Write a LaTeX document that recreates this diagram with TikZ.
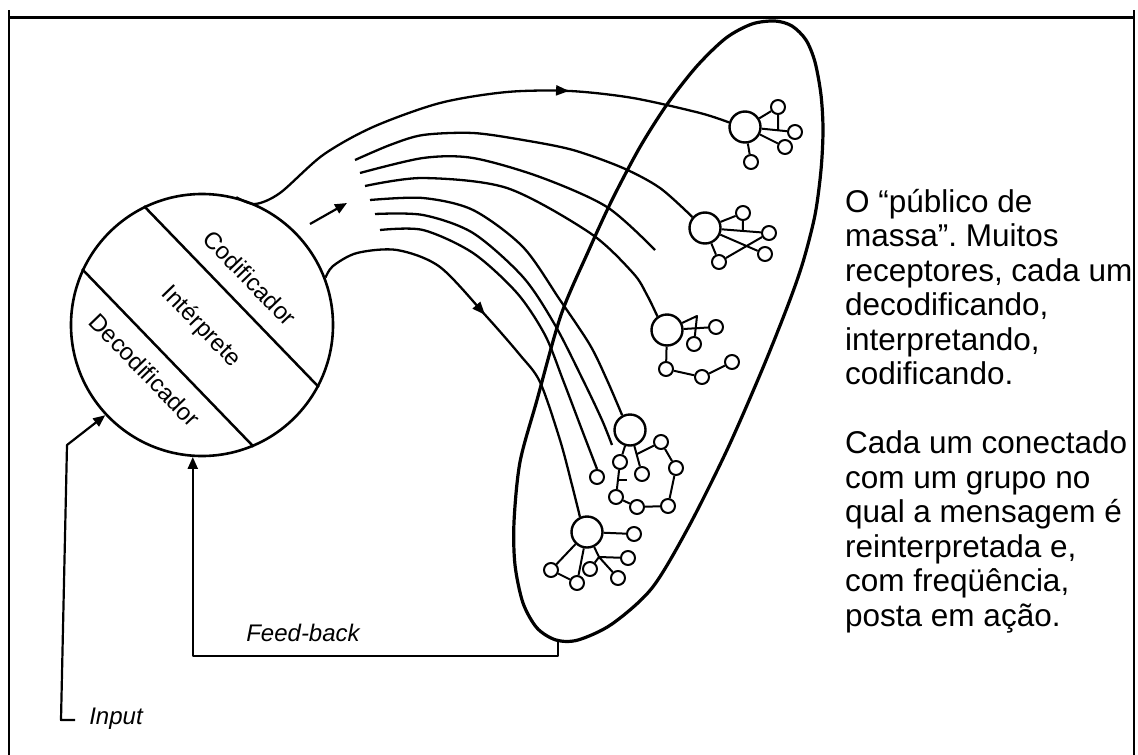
\documentclass[tikz,border=0pt]{standalone}
\usepackage{fontspec}
\setmainfont{Liberation Sans}
\usetikzlibrary{arrows.meta,decorations.markings,calc}
\frenchspacing

\begin{document}
\begin{tikzpicture}[
  x=1pt, y=-1pt,
  line join=round,
  lane/.style={line width=2.3pt},
  wire/.style={line width=2pt},
  hub/.style={draw, circle, line width=2.4pt, minimum size=31pt, inner sep=0pt},
  leaf/.style={draw, circle, line width=2pt, minimum size=14pt, inner sep=0pt},
  arr/.style={-{Triangle[length=12pt, width=10pt]}, line width=2.2pt},
  midarr/.style={postaction={decorate, decoration={markings,
      mark=at position #1 with {\arrow{Triangle[length=13pt, width=10pt]}}}}},
  part/.style={rotate=-46, font=\fontsize{24}{24}\selectfont},
  lab/.style={font=\fontsize{24}{24}\selectfont\itshape}
]
\useasboundingbox (0,0) rectangle (1138,755);
% frame
\draw[line width=3pt] (9,17) -- (1134,17);
\draw[line width=2.6pt] (9,10) -- (9,755);
\draw[line width=2.6pt] (1134,10) -- (1134,755);

% source: the three layers of the communicator
\node[draw, circle, line width=2.6pt, minimum size=262pt, inner sep=0pt] (src) at (202,325) {};
\draw[line width=2.5pt] (src.116) -- (src.332);
\draw[line width=2.5pt] (src.155) -- (src.293);
\node[part] (cod) at (250,278) {Codificador};
\node[part] (int) at (201,327) {Intérprete};
\node[part] (dec) at (145,370) {Decodificador};

% the mass audience (egg outline)
\draw[line width=3.2pt] plot[smooth cycle] coordinates {(775,21) (792,26) (806,40) (815,62)
  (821,95) (823,130) (821,170) (815,215) (803,262) (788,305) (762,370) (727,450)
  (688,528) (652,588) (612,624) (578,640) (556,640) (537,628) (523,603) (515,565)
  (514,522) (520,462) (537,400) (561,315) (588,252) (612,200) (640,147) (668,103)
  (697,66) (726,38) (752,24)};
\coordinate (mbot) at (558,641);

% receivers and their groups
\node[hub] (h1) at (745,127) {};
\node[leaf] (g1a) at (778,107) {};
\node[leaf] (g1b) at (795,132) {};
\node[leaf] (g1c) at (785,147) {};
\node[leaf] (g1d) at (751,162) {};
\draw[wire] (h1) -- (g1a) (h1) -- (g1b) (h1) -- (g1c) (h1) -- (g1d);
\draw[wire] (g1a) -- ($(h1)!0.66!(g1b)$);

\node[hub] (h2) at (705,228) {};
\node[leaf] (g2a) at (743,213) {};
\node[leaf] (g2b) at (769,233) {};
\node[leaf] (g2c) at (765,254) {};
\node[leaf] (g2d) at (719,262) {};
\draw[wire] (h2) -- (g2a) (h2) -- (g2b) (h2) -- (g2c) (h2) -- (g2d) (g2d) -- (g2b);
\draw[wire] (g2a) -- ($(h2)!0.59!(g2b)$);

\node[hub] (h3) at (667,330) {};
\node[leaf] (g3a) at (716,327) {};
\node[leaf] (g3b) at (694,344) {};
\node[leaf] (g3c) at (666,369) {};
\node[leaf] (g3d) at (702,377) {};
\node[leaf] (g3e) at (732,362) {};
\coordinate (t3) at (697,316);
\draw[wire] (h3) -- (t3) -- (g3b);
\draw[wire] (h3) -- (g3a) (h3) -- (g3c) -- (g3d) -- (g3e);

\node[hub] (h4) at (630,430) {};
\node[leaf] (g4a) at (661,442) {};
\node[leaf] (g4b) at (676,468) {};
\node[leaf] (g4c) at (668,506) {};
\node[leaf] (g4d) at (637,507) {};
\node[leaf] (g4e) at (616,497) {};
\node[leaf] (g4f) at (620,462) {};
\node[leaf] (g4g) at (642,474) {};
\draw[wire] (h4) -- (g4g);
\draw[wire] ($(h4)!0.55!(g4g)$) -- (g4a) -- (g4b) -- (g4c) -- (g4d) -- (g4e) -- (g4f) -- (h4);
\draw[wire] ($(g4e)!0.5!(g4f)$) -- ++(9,0);

\node[leaf] (e6) at (597,477) {};

\node[hub] (h5) at (587,532) {};
\node[leaf] (g5a) at (551,570) {};
\node[leaf] (g5b) at (577,583) {};
\node[leaf] (g5c) at (590,569) {};
\node[leaf] (g5d) at (618,578) {};
\node[leaf] (g5e) at (628,558) {};
\node[leaf] (g5f) at (634,534) {};
\coordinate (j5) at (599,557);
\draw[wire] (h5) -- (g5a) -- (g5b) -- (h5);
\draw[wire] (h5) -- (g5f);
\draw[wire] (h5) -- (j5) -- (g5e) (j5) -- (g5d) (j5) -- (g5c);

% message channels
\coordinate (s1) at (355,160);
\coordinate (s2) at (360,173);
\coordinate (s3) at (365,186);
\coordinate (s4) at (370,200);
\coordinate (s5) at (375,214);
\coordinate (s6) at (380,230);
\coordinate (e2) at (655,250);
\coordinate (e5) at (612,445);
\draw[lane, midarr=0.69] plot[smooth] coordinates {(src.75) (255,204) (280,193) (323,155)
  (373,127) (440,103) (507,92) (570,91) (633,98) (700,113) (h1.164)};
\draw[lane] plot[smooth] coordinates {(s1) (390,145) (423,135) (473,133) (523,140) (573,150)
  (623,168) (660,188) (h2.139)};
\draw[lane] plot[smooth] coordinates {(s2) (423,158) (473,158) (540,177) (607,207) (e2)};
\draw[lane] plot[smooth] coordinates {(s3) (423,178) (507,188) (590,233) (633,273) (647,295) (h3.125)};
\draw[lane] plot[smooth] coordinates {(s4) (423,198) (473,210) (523,247) (560,300) (590,345)
  (607,380) (h4.118)};
\draw[lane] plot[smooth] coordinates {(s5) (423,215) (473,233) (523,277) (555,325) (583,380)
  (602,420) (e5)};
\draw[lane] plot[smooth] coordinates {(s6) (423,230) (473,253) (517,293) (545,335) (563,380)
  (582,430) (e6.north)};
\draw[lane, midarr=0.46] plot[smooth] coordinates {(src.21) (333,266) (357,253) (397,250)
  (440,267) (487,317) (520,355) (540,382) (560,440) (572,485) (h5.115)};

\coordinate (p0) at (310,224);
\coordinate (p1) at (347,203);
\draw[arr] (p0) -- (p1);

% input and feed-back
\coordinate (in0) at (75,720);
\coordinate (inbend) at (67,445);
\draw[arr] (in0) -- ++(-14,0) -- (inbend) -- (src.223);
\node[lab, anchor=base] (inlab) at (116,724) {Input};
\draw[arr] (mbot) -- ++(0,15) -| (src.266);
\node[lab, anchor=base] (fb) at (303,641) {Feed-back};

% caption
\node[anchor=north west, inner sep=0pt, align=left, font=\fontsize{31.5}{34.5}\selectfont] (note)
  at (845,189) {O “público de\\ massa”. Muitos\\ receptores, cada um\\ decodificando,\\
  interpretando,\\ codificando.\\[34.5pt] Cada um conectado\\ com um grupo no\\
  qual a mensagem é\\ reinterpretada e,\\ com freqüência,\\ posta em ação.};
\end{tikzpicture}
\end{document}
